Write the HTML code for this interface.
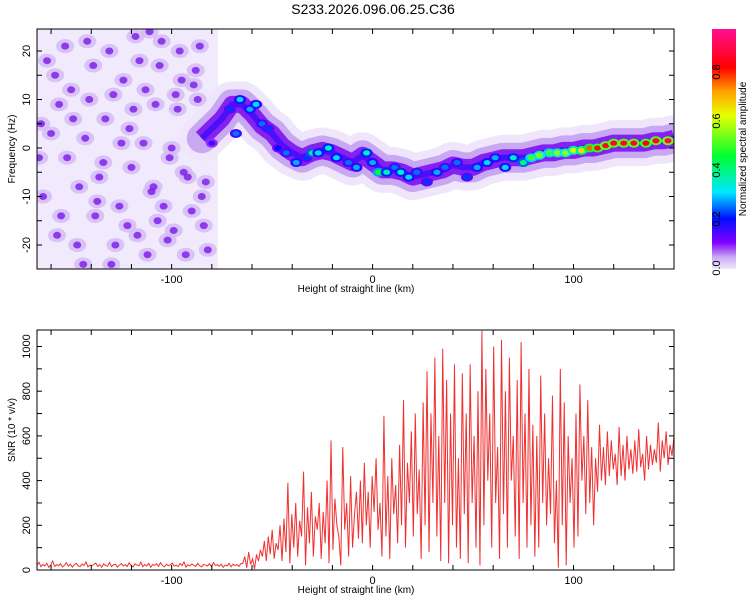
<!DOCTYPE html>
<html><head><meta charset="utf-8"><style>
body{margin:0;background:#fff;width:750px;height:600px;overflow:hidden}
svg{display:block;font-family:"Liberation Sans",sans-serif}
</style></head><body>
<svg id="chart" width="750" height="600">
<defs>
<linearGradient id="cmap" x1="0" y1="1" x2="0" y2="0">
<stop offset="0" stop-color="#f0e8fc"/><stop offset="0.05" stop-color="#c8a8f4"/>
<stop offset="0.11" stop-color="#8000ff"/><stop offset="0.21" stop-color="#0010ff"/>
<stop offset="0.32" stop-color="#00e8ff"/><stop offset="0.47" stop-color="#00ff30"/>
<stop offset="0.64" stop-color="#e8ff00"/><stop offset="0.74" stop-color="#ffa000"/>
<stop offset="0.84" stop-color="#ff0000"/><stop offset="1" stop-color="#ff1090"/>
</linearGradient>
<clipPath id="clipTop"><rect x="37" y="29" width="637" height="240"/></clipPath>
<clipPath id="clipBot"><rect x="37" y="330" width="637" height="240"/></clipPath>
</defs>
<text x="373" y="14" font-size="14" text-anchor="middle">S233.2026.096.06.25.C36</text>
<g id="topPanel"></g>
<g id="botPanel"></g>
<g id="cbarPanel"></g>
</svg>
<script>
// ---- data ----
const ridgeX = [-85,-80,-75,-70,-65,-60,-55,-50,-45,-40,-35,-30,-25,-20,-15,-10,-5,0,5,10,15,20,25,30,35,40,45,50,55,60,65,70,75,80,85,90,95,100,105,110,115,120,125,130,135,140,145,150];
const ridgeF = [2,4,6,9,9,7,4.5,3,0.5,-1,-2,-1,-0.5,-1,-2,-3,-1.5,-3,-4.5,-4.5,-5,-6,-5.5,-5,-4.5,-3.5,-4,-4,-3,-2.5,-2,-2,-2,-1.5,-1,-1,-0.5,-0.5,0,0,0.5,1,1,1,1,1.5,1.5,2];
const blobX = [-80,-71,-68,-66,-61,-58,-55,-52,-47,-43,-38,-33,-30,-27,-22,-18,-12,-8,-3,0,3,7,11,14,18,22,27,32,36,42,47,52,57,61,66,70,75,79,83,88,92,96,100,104,108,112,116,120,125,130,136,141,147];
const blobF = [1,8,3,10,8,9,5,4,0,-1,-3,-2,-1,-1,0,-2,-3,-4,-1,-3,-5,-5,-4,-5,-6,-5,-7,-5,-4,-3,-6,-4,-3,-2,-4,-2,-3,-2,-1.5,-1,-1,-1,-0.5,-0.5,0,0,0.5,1,1,1,1,1.5,1.5];
const blobA = [0.15,0.22,0.25,0.3,0.28,0.3,0.25,0.22,0.2,0.25,0.28,0.22,0.4,0.3,0.35,0.3,0.25,0.28,0.35,0.28,0.45,0.35,0.25,0.35,0.3,0.25,0.22,0.28,0.25,0.25,0.22,0.28,0.3,0.28,0.3,0.35,0.4,0.5,0.55,0.5,0.55,0.55,0.6,0.65,0.75,0.8,0.85,0.85,0.85,0.85,0.82,0.85,0.88];
const noiseX = [-165,-160,-157,-150,-146,-142,-138,-133,-128,-124,-120,-116,-112,-108,-104,-100,-96,-92,-88,-84,-80,-164,-158,-152,-147,-141,-136,-131,-126,-121,-117,-113,-109,-105,-101,-97,-93,-89,-85,-81,-162,-155,-149,-144,-139,-134,-129,-122,-118,-114,-110,-106,-102,-98,-94,-90,-86,-82,-166,-156,-143,-130,-119,-107,-95,-83,-153,-137,-125,-111,-99,-87];
const noiseF = [5,3,-18,12,-8,22,-14,6,-20,14,-4,18,-22,9,-12,0,20,-6,16,-16,3,-10,15,-2,-20,10,-6,20,-12,4,-18,12,-8,22,-2,8,-22,13,-10,5,18,-14,6,-24,17,-3,11,-16,23,1,-9,17,-19,11,-5,-13,21,-21,-2,9,2,-24,8,-15,14,-7,21,-11,1,24,-17,10];
const snrVals = [20,35,15,25,18,30,12,22,40,16,24,19,28,14,21,33,17,26,13,23,30,18,15,27,20,36,14,22,19,25,31,16,24,12,28,20,17,34,15,23,26,13,21,29,18,24,16,32,20,14,27,22,19,35,15,25,18,30,12,24,21,28,16,33,20,14,26,19,23,31,17,22,15,29,20,36,13,24,18,27,21,16,30,19,14,25,22,18,28,15,33,20,24,17,26,12,22,
18,30,14,26,20,24,16,28,
30,60,10,80,25,50,5,70,40,90,
60,130,40,150,70,180,50,120,90,200,
40,230,80,390,30,250,100,300,60,220,
150,440,20,280,120,350,60,240,180,300,
50,260,120,400,30,580,90,320,200,150,
20,550,180,300,60,420,100,250,350,140,
400,120,480,200,350,100,420,260,500,180,
300,60,690,150,420,50,500,250,380,120,
560,200,760,100,480,300,620,150,700,250,
450,50,750,200,890,80,700,300,950,150,
600,40,990,300,850,30,700,200,920,100,
500,50,880,250,700,30,920,300,600,100,
800,20,1070,200,900,400,700,100,1000,300,
550,50,1030,250,800,100,950,400,600,150,
850,50,1020,300,700,100,900,200,650,60,
600,100,870,300,700,200,500,250,780,120,
400,10,900,200,750,20,600,300,500,100,
700,150,830,400,600,250,760,300,550,200,
500,350,650,400,550,380,620,420,580,450,
520,380,640,420,560,400,600,450,540,430,
580,440,630,460,520,400,600,450,560,470,
540,480,660,440,580,500,620,470,560,510,600];
const xTicks = [-100,0,100];
const fTicks = [-20,-10,0,10,20];
const snrTicks = [0,200,400,600,800,1000];
const cTicks = [0,0.2,0.4,0.6,0.8];

// ---- scales ----
const X0=-167, X1=150, PL=37, PR=674;
const xs = v => PL + (v-X0)/(X1-X0)*(PR-PL);
const fy = v => 148 - v*4.85;
const sy = v => 570 - v*0.2235;
const cy = v => 268 - v*245;
const NS="http://www.w3.org/2000/svg";
function mk(tag, parent, attrs){const e=document.createElementNS(NS,tag);for(const k in attrs)e.setAttribute(k,attrs[k]);parent.appendChild(e);return e;}
const stops=[[0,[240,232,252]],[0.05,[200,168,244]],[0.11,[128,0,255]],[0.21,[0,16,255]],[0.32,[0,232,255]],[0.47,[0,255,48]],[0.64,[232,255,0]],[0.74,[255,160,0]],[0.84,[255,0,0]],[1,[255,16,144]]];
function cmap(a){a=Math.max(0,Math.min(1,a/0.96));for(let i=1;i<stops.length;i++){if(a<=stops[i][0]){const t=(a-stops[i-1][0])/(stops[i][0]-stops[i-1][0]);const c=stops[i-1][1].map((v,j)=>Math.round(v+(stops[i][1][j]-v)*t));return 'rgb('+c.join(',')+')';}}return 'rgb(255,16,144)';}

// ---- top panel ----
const topPanel=document.getElementById('topPanel');
const plotArea=mk('g',topPanel,{'clip-path':'url(#clipTop)'});


const noiseBg=mk('rect',plotArea,{x:PL,y:29,width:xs(-77)-PL,height:240,fill:'#f1e9fc'});


noiseX.forEach((x,i)=>{
  const h=mk('ellipse',plotArea,{cx:xs(x),cy:fy(noiseF[i]),rx:9,ry:7,fill:'#d2b8f4','fill-opacity':0.8});
  
  
});
noiseX.forEach((x,i)=>{
  const c=mk('ellipse',plotArea,{cx:xs(x),cy:fy(noiseF[i]),rx:4,ry:3.5,fill:'#7f22ea','fill-opacity':0.85});
  
  
});
let ridgePath='';ridgeX.forEach((x,i)=>{ridgePath+=(i?'L':'M')+xs(x)+' '+fy(ridgeF[i]);});
const b1=mk('path',plotArea,{d:ridgePath,fill:'none',stroke:'#efe6fb','stroke-width':46,'stroke-linejoin':'round','stroke-linecap':'round'});


const b2=mk('path',plotArea,{d:ridgePath,fill:'none',stroke:'#c9a8f3','stroke-width':30,'stroke-linejoin':'round','stroke-linecap':'round'});


const b3=mk('path',plotArea,{d:ridgePath,fill:'none',stroke:'#8420f0','stroke-width':17,'stroke-linejoin':'round'});


const b4=mk('path',plotArea,{d:ridgePath,fill:'none',stroke:'#4a10f8','stroke-width':6,'stroke-linejoin':'round'});


blobX.forEach((x,i)=>{
  const g=mk('g',plotArea,{});
  
  
  mk('ellipse',g,{cx:xs(x),cy:fy(blobF[i]),rx:6,ry:4.5,fill:cmap(blobA[i]*0.6)});
  mk('ellipse',g,{cx:xs(x),cy:fy(blobF[i]),rx:3.5,ry:2.6,fill:cmap(blobA[i])});
});
function drawFrame(parent,y0,y1,name){
  const r=mk('rect',parent,{x:PL,y:y0,width:PR-PL,height:y1-y0,fill:'none',stroke:'#000','stroke-width':1});
  
  
  for(let v=-160;v<=140;v+=20){const x=xs(v);mk('line',parent,{x1:x,x2:x,y1:y0,y2:y0+5,stroke:'#000'});mk('line',parent,{x1:x,x2:x,y1:y1,y2:y1-5,stroke:'#000'});}
  xTicks.forEach(v=>{const t=mk('text',parent,{x:xs(v),y:y1+14,'font-size':11,'text-anchor':'middle'});t.textContent=v;
    
    });
  const xt=mk('text',parent,{x:356,y:y1+23,'font-size':10,'text-anchor':'middle'});xt.textContent='Height of straight line (km)';
  
  
}
drawFrame(topPanel,29,269,'spectrogram-frame');
for(let v=-25;v<=20;v+=5){const y=fy(v);if(y>269||y<29)continue;mk('line',topPanel,{x1:PL,x2:PL+5,y1:y,y2:y,stroke:'#000'});mk('line',topPanel,{x1:PR,x2:PR-5,y1:y,y2:y,stroke:'#000'});}
fTicks.forEach(v=>{const t=mk('text',topPanel,{x:0,y:0,'font-size':11,'text-anchor':'middle',transform:'translate(30,'+fy(v)+') rotate(-90)'});t.textContent=v;
  
  });
const yt=mk('text',topPanel,{x:0,y:0,'font-size':10,'text-anchor':'middle',transform:'translate(15,149) rotate(-90)'});yt.textContent='Frequency (Hz)';



// ---- bottom panel ----
const botPanel=document.getElementById('botPanel');
const bp=mk('g',botPanel,{'clip-path':'url(#clipBot)'});
const snrStep=(X1-X0)/(snrVals.length-1);
let pd='';snrVals.forEach((v,i)=>{pd+=(i?'L':'M')+xs(X0+i*snrStep).toFixed(2)+' '+sy(v).toFixed(2);});
const snrLine=mk('path',bp,{d:pd,fill:'none',stroke:'#f03030','stroke-width':1});


drawFrame(botPanel,330,570,'snr-frame');
for(let v=0;v<=1000;v+=100){const y=sy(v);mk('line',botPanel,{x1:PL,x2:PL+5,y1:y,y2:y,stroke:'#000'});mk('line',botPanel,{x1:PR,x2:PR-5,y1:y,y2:y,stroke:'#000'});}
snrTicks.forEach(v=>{const t=mk('text',botPanel,{x:0,y:0,'font-size':11,'text-anchor':'middle',transform:'translate(30,'+sy(v)+') rotate(-90)'});t.textContent=v;
  
  });
const st=mk('text',botPanel,{x:0,y:0,'font-size':10,'text-anchor':'middle',transform:'translate(15,430) rotate(-90)'});st.textContent='SNR (10 * v/v)';



// ---- colorbar ----
const cbarPanel=document.getElementById('cbarPanel');
const cr=mk('rect',cbarPanel,{x:712,y:29,width:24,height:240,fill:'url(#cmap)'});


cTicks.forEach(v=>{const t=mk('text',cbarPanel,{x:0,y:0,'font-size':11,'text-anchor':'middle',transform:'translate(720,'+cy(v)+') rotate(-90)'});t.textContent=v.toFixed(1);
  
  });
const ct=mk('text',cbarPanel,{x:0,y:0,'font-size':10,'text-anchor':'middle',transform:'translate(746,149) rotate(-90)'});ct.textContent='Normalized spectral amplitude';


</script>
</body></html>
